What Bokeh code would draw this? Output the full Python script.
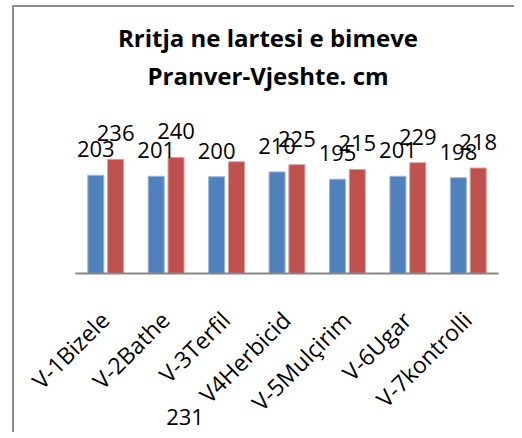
import math
from bokeh.plotting import figure
from bokeh.models import ColumnDataSource, Range1d, LabelSet, Label, FixedTicker
from bokeh.core.properties import value
from bokeh.transform import dodge
from bokeh.embed import file_html
from bokeh.resources import INLINE

categories = ["V-1Bizele", "V-2Bathe", "V-3Terfil", "V4Herbicid", "V-5Mulçirim", "V-6Ugar", "V-7kontrolli"]
pranvere = [203, 201, 200, 210, 195, 201, 198]
vjeshte = [236, 240, 231, 225, 215, 229, 218]
title_lines = ["Rritja ne lartesi e bimeve", "Pranver-Vjeshte. cm"]

FONT = "Open Sans"
BLUE = "#4F81BD"
RED = "#C0504D"
n = len(categories)

red_labels = [str(v) for v in vjeshte]
red_labels[2] = ""  # this label is displaced below the chart in the original

src = ColumnDataSource(dict(
    x=list(range(n)), cat=categories, a=pranvere, b=vjeshte,
    al=[str(v) for v in pranvere], bl=red_labels,
))

p = figure(
    x_range=Range1d(-1.509, 6.765), y_range=Range1d(-324, 533),
    frame_width=500, frame_height=415,
    min_border_left=0, min_border_top=8, min_border_right=0, min_border_bottom=2,
    output_backend="svg", toolbar_location=None,
)
p.styles = {"margin-top": "5px", "margin-left": "12px",
            "border-top": "2px solid #8a8a8a", "border-left": "2px solid #8a8a8a"}

p.vbar(x=dodge("x", -0.164), top="a", width=0.265, source=src,
       fill_color=BLUE, line_color="#9BB7DC", line_width=1)
p.vbar(x=dodge("x", 0.164), top="b", width=0.265, source=src,
       fill_color=RED, line_color="#DE9C9A", line_width=1)

for fld, txt, off in (("a", "al", -0.164), ("b", "bl", 0.164)):
    p.add_layout(LabelSet(x=dodge("x", off), y=fld, text=txt, source=src,
                          y_offset=18, text_align="center", text_baseline="alphabetic",
                          text_font=value(FONT), text_font_size="22px", text_color="black"))

# category labels, rotated like the original
p.add_layout(LabelSet(x="x", y=0, text="cat", source=src, angle=math.pi / 4,
                      x_offset=-1, y_offset=-42, text_align="right", text_baseline="middle",
                      text_font=value(FONT), text_font_size="23px", text_color="black"))

for line, yy in zip(title_lines, (393.5, 355.5)):
    p.add_layout(Label(x=253.5, y=yy, x_units="screen", y_units="screen", text=line,
                       text_align="center", text_baseline="middle",
                       text_font=FONT, text_font_size="24px", text_font_style="bold",
                       text_color="black"))

p.add_layout(Label(x=170.5, y=14, x_units="screen", y_units="screen", text=str(vjeshte[2]),
                   text_align="center", text_baseline="middle",
                   text_font=FONT, text_font_size="22px", text_color="black"))

p.yaxis.visible = False
p.xgrid.visible = False
p.ygrid.visible = False
p.outline_line_color = None
ax = p.xaxis[0]
ax.fixed_location = 0
ax.bounds = (-0.5, n - 0.5)
ax.ticker = FixedTicker(ticks=[])
ax.axis_line_color = "#868686"
ax.axis_line_width = 2
ax.major_tick_line_color = None
ax.minor_tick_line_color = None

open("out.html", "w").write(file_html(p, INLINE))
